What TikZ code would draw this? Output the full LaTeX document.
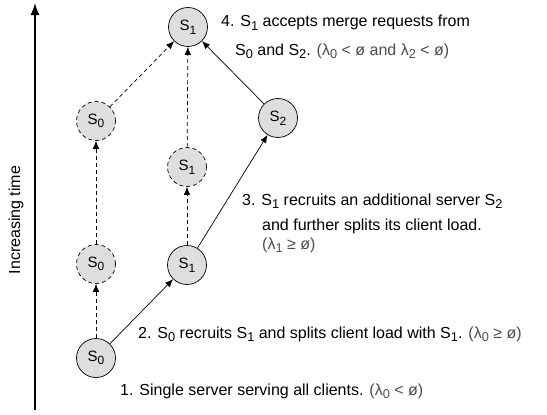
\documentclass[tikz,border=0pt]{standalone}
\usepackage{fontspec}
\setmainfont{Liberation Sans}
\usetikzlibrary{arrows.meta}
\definecolor{servergray}{gray}{0.87}
\definecolor{condgray}{gray}{0.3}
\newcommand{\cond}[1]{\textcolor{condgray}{#1}}
\newcommand{\lowsub}[1]{\raisebox{-0.45ex}{\scalebox{0.8}{#1}}}
\newcommand{\srv}[1]{S\lowsub{#1}}
\begin{document}
\begin{tikzpicture}[x=1pt,y=-1pt,
    server/.style={circle,draw,fill=servergray,minimum size=39pt,inner sep=0pt,line width=0.7pt,font=\fontsize{15}{17}\selectfont},
    ghost/.style={server,dash pattern=on 4pt off 3pt},
    link/.style={-{Latex[length=8pt,width=6.5pt]},line width=0.7pt},
    merge/.style={link,dash pattern=on 4pt off 3pt},
    note/.style={anchor=base west,inner sep=0pt,font=\fontsize{16}{19}\selectfont}]
\useasboundingbox (0,0) rectangle (547,415);
% time axis
\draw[-{Latex[length=12pt,width=9pt]},line width=1.4pt] (35,410) -- (35,3);
\node[rotate=90,font=\fontsize{16}{19}\selectfont] (time) at (16,220) {Increasing time};
% servers
\node[server] (s1top) at (188,27) {\srv{1}};
\node[ghost]  (s0up)  at (96,121) {\srv{0}};
\node[server] (s2)    at (278,118) {\srv{2}};
\node[ghost]  (s1mid) at (187,167) {\srv{1}};
\node[ghost]  (s0low) at (96,264) {\srv{0}};
\node[server] (s1)    at (187,265) {\srv{1}};
\node[server] (s0)    at (96,358) {\srv{0}};
% connectors
\draw[merge] (s0) -- (s0low);
\draw[merge] (s0low) -- (s0up);
\draw[merge] (s0up) -- (s1top);
\draw[merge] (s1) -- (s1mid);
\draw[merge] (s1mid) -- (s1top);
\draw[link] (s0) -- (s1);
\draw[link] (s1) -- (s2);
\draw[link] (s2) -- (s1top);
% notes
\node[note] (n4a) at (221,27) {4. \srv{1} accepts merge requests from};
\node[note] (n4b) at (235,55) {\srv{0} and \srv{2}. \cond{(λ\lowsub{0} < ø and λ\lowsub{2} < ø)}};
\node[note] (n3a) at (242,205) {3. \srv{1} recruits an additional server \srv{2}};
\node[note] (n3b) at (262,230) {and further splits its client load.};
\node[note] (n3c) at (262,249) {\cond{(λ\lowsub{1} ≥ ø)}};
\node[note] (n2) at (138,338) {2. \srv{0} recruits \srv{1} and splits client load with \srv{1}. \cond{(λ\lowsub{0} ≥ ø)}};
\node[note] (n1) at (120,395) {1. Single server serving all clients. \cond{(λ\lowsub{0} < ø)}};
\end{tikzpicture}
\end{document}
